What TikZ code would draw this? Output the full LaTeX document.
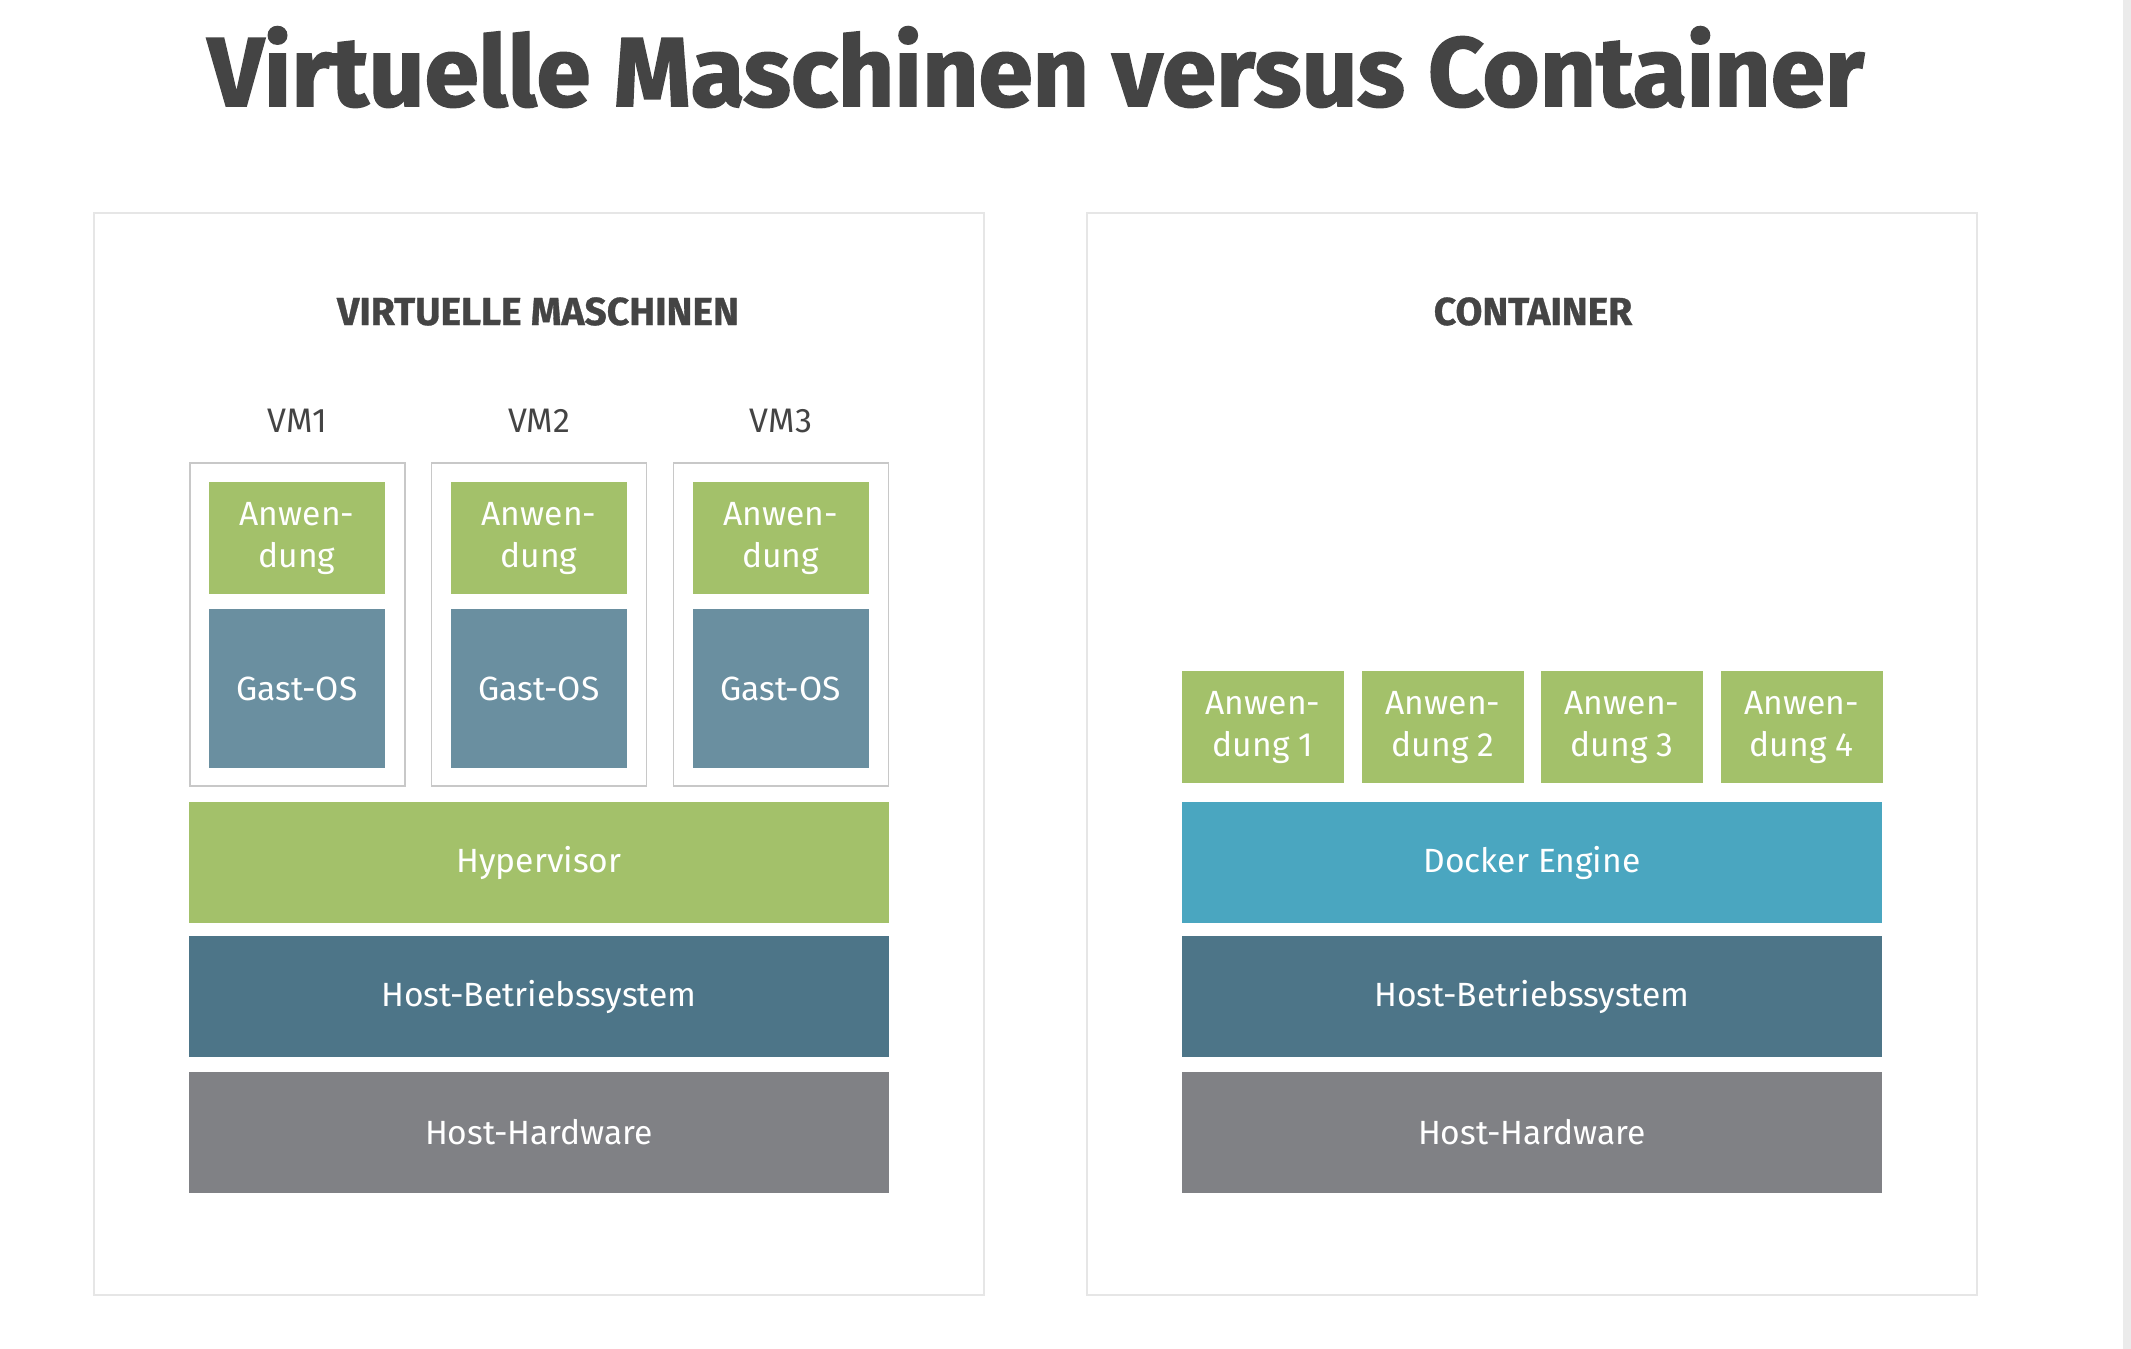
\documentclass[tikz,border=0pt]{standalone}
\usepackage{fontspec}
\setmainfont{Fira Sans}
\newfontfamily\titlefont{Fira Sans}[BoldFeatures={FakeBold=1.6}]
\newfontfamily\headfont{Fira Sans}[BoldFeatures={FakeBold=0.8}]
\definecolor{appgreen}{HTML}{A3C16A}
\definecolor{gastos}{HTML}{6A8FA0}
\definecolor{hostos}{HTML}{4D7588}
\definecolor{hardw}{HTML}{808185}
\definecolor{docker}{HTML}{4AA6C0}
\definecolor{titlegray}{HTML}{444444}
\definecolor{panelline}{HTML}{E6E6E6}
\definecolor{vmline}{HTML}{C8C8C8}
\definecolor{edgestrip}{HTML}{EBEBEB}
\tikzset{
  layer/.style={inner sep=0pt, text=white, font=\fontsize{16.8}{21}\selectfont, align=center},
  panel/.style={draw=panelline, line width=1pt, fill=white, inner sep=0pt},
  vmbox/.style={draw=vmline, line width=0.8pt, fill=white, inner sep=0pt, minimum width=107.5pt, minimum height=161.5pt},
  appbox/.style={layer, fill=appgreen, minimum width=88pt, minimum height=56pt},
  osbox/.style={layer, fill=gastos, minimum width=88pt, minimum height=79.5pt},
  capp/.style={layer, fill=appgreen, minimum width=81pt, minimum height=56pt},
  wide/.style={layer, minimum width=350pt, minimum height=60.5pt},
  heading/.style={text=titlegray, font=\headfont\fontsize{19.5}{22}\selectfont\bfseries, anchor=base},
  vmlabel/.style={text=titlegray, font=\fontsize{17}{19}\selectfont, anchor=base}
}
\begin{document}
\begin{tikzpicture}[x=0.5pt,y=-0.5pt]
\useasboundingbox (0,0) rectangle (2131,1349);
\fill[white] (0,0) rectangle (2131,1349);
\fill[edgestrip] (2123,0) rectangle (2131,1349);
% title
\node[text=titlegray, font=\titlefont\fontsize{49}{56}\selectfont\bfseries, anchor=base, inner sep=0pt] (title) at (1036,106) {Virtuelle Maschinen versus Container};
% panels
\node[panel, minimum width=445pt, minimum height=541pt] (lp) at (539,754) {};
\node[panel, minimum width=445pt, minimum height=541pt] (rp) at (1532,754) {};
\node[heading] (lh) at (538,325) {VIRTUELLE MASCHINEN};
\node[heading] (rh) at (1533,325) {CONTAINER};
% VMs
\node[vmlabel] (vl1) at (297.5,432) {VM1};
\node[vmlabel] (vl2) at (539,432) {VM2};
\node[vmlabel] (vl3) at (781,432) {VM3};
\node[vmbox] (vm1) at (297.5,624.5) {};
\node[vmbox] (vm2) at (539,624.5) {};
\node[vmbox] (vm3) at (781,624.5) {};
\node[appbox] (a1) at (297,538) {Anwen-\\dung};
\node[appbox] (a2) at (539,538) {Anwen-\\dung};
\node[appbox] (a3) at (780.5,538) {Anwen-\\dung};
\node[osbox] (g1) at (297,688.5) {Gast-OS};
\node[osbox] (g2) at (539,688.5) {Gast-OS};
\node[osbox] (g3) at (780.5,688.5) {Gast-OS};
\node[wide, fill=appgreen] (hyp) at (539,862.5) {Hypervisor};
\node[wide, fill=hostos] (hos1) at (539,996.5) {Host-Betriebssystem};
\node[wide, fill=hardw] (hw1) at (539,1132.5) {Host-Hardware};
% Container
\node[capp] (c1) at (1263,727) {Anwen-\\dung 1};
\node[capp] (c2) at (1443,727) {Anwen-\\dung 2};
\node[capp] (c3) at (1622,727) {Anwen-\\dung 3};
\node[capp] (c4) at (1801.5,727) {Anwen-\\dung 4};
\node[wide, fill=docker] (dock) at (1532,862.5) {Docker Engine};
\node[wide, fill=hostos] (hos2) at (1532,996.5) {Host-Betriebssystem};
\node[wide, fill=hardw] (hw2) at (1532,1132.5) {Host-Hardware};
\end{tikzpicture}
\end{document}
